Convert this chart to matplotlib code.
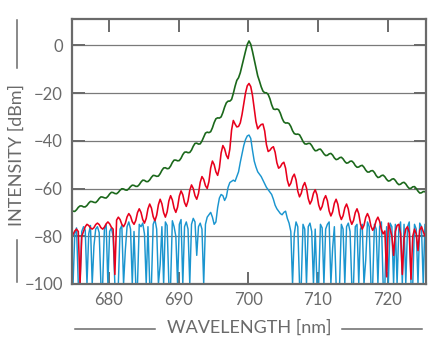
import numpy as np
import matplotlib
matplotlib.use("Agg")
import matplotlib.pyplot as plt
from matplotlib.lines import Line2D

# wavelength sampling positions (nm)
wavelength_nm = np.linspace(674.6, 725.6, 205)

green_dbm = [
    -69.2, -69.5, -69.6, -68.9, -67.9, -67.3, -67.3, -67.7, -67.7, -67.1,
    -66.1, -65.4, -65.5, -65.8, -65.9, -65.2, -64.2, -63.5, -63.6, -63.9,
    -64.0, -63.3, -62.3, -61.6, -61.7, -62.1, -62.2, -61.6, -60.7, -60.1,
    -60.2, -60.6, -60.7, -60.1, -59.2, -58.6, -58.7, -59.1, -59.1, -58.4,
    -57.3, -56.5, -56.6, -57.1, -57.1, -56.4, -55.3, -54.5, -54.6, -54.9,
    -54.8, -53.8, -52.4, -51.4, -51.3, -51.7, -51.6, -50.6, -49.1, -48.1,
    -48.1, -48.4, -48.3, -47.3, -45.8, -44.8, -44.7, -45.0, -44.9, -43.9,
    -42.3, -41.1, -41.0, -41.4, -41.3, -40.1, -38.5, -36.8, -36.4, -36.6,
    -36.2, -34.6, -32.4, -30.8, -30.4, -30.5, -30.0, -28.2, -25.9, -24.1,
    -23.4, -23.4, -22.7, -20.2, -17.2, -14.7, -13.6, -11.5, -8.5, -5.5,
    -2.5, 0.3, 1.8, 0.4, -2.6, -6.0, -9.5, -12.8, -15.0, -17.4,
    -19.2, -19.9, -19.9, -20.6, -22.4, -24.9, -26.7, -26.9, -26.7, -27.0,
    -28.5, -30.6, -32.1, -32.6, -32.5, -32.8, -34.0, -35.8, -37.0, -37.3,
    -37.2, -37.5, -38.8, -40.3, -41.3, -41.4, -41.1, -41.1, -42.0, -43.3,
    -44.2, -44.1, -43.6, -43.5, -44.4, -45.5, -46.2, -46.1, -45.5, -45.3,
    -46.0, -47.2, -47.9, -47.7, -47.1, -46.9, -47.6, -48.7, -49.4, -49.2,
    -48.6, -48.5, -49.2, -50.4, -51.1, -51.0, -50.5, -50.3, -51.1, -52.3,
    -53.1, -53.1, -52.6, -52.5, -53.3, -54.6, -55.4, -55.2, -54.6, -54.4,
    -55.1, -56.2, -56.9, -56.7, -56.1, -55.9, -56.6, -57.7, -58.4, -58.2,
    -57.6, -57.4, -58.1, -59.2, -60.0, -59.9, -59.3, -59.2, -60.0, -61.1,
    -61.9, -61.8, -61.3, -61.3, -62.1,
]

red_dbm = [
    -80, -79.2, -77.8, -77, -78, -100, -80, -78, -76, -75,
    -75.5, -76.5, -77, -76.4, -75.1, -74.5, -75.1, -76.4, -77, -76.2,
    -74.8, -74, -74.8, -76.2, -77, -96, -73.2, -72, -73, -75,
    -76, -74.6, -71.9, -70.5, -71.6, -73.9, -75, -73.4, -70.1, -68.5,
    -70, -73, -74.5, -72.5, -68.5, -66.5, -68.2, -71.8, -73.5, -71.2,
    -66.8, -64.5, -66.4, -70.1, -72, -69.8, -65.2, -63, -64.8, -68.2,
    -70, -67.8, -63.2, -61, -62.6, -65.9, -67.5, -65.2, -60.8, -58.5,
    -60, -63, -64.5, -62.1, -57.4, -55, -56.2, -58.8, -60, -57.1,
    -51.4, -48.5, -50, -53, -54.5, -51.4, -45.1, -42, -43.4, -46.1,
    -47.5, -43.5, -35.5, -31.5, -33, -34.2, -34, -32.5, -29, -24.5,
    -20, -17, -16, -17.3, -21, -26.5, -32, -35, -34, -33.2,
    -33, -35.9, -41.6, -44.5, -44, -43, -42.5, -44.8, -49.2, -51.5,
    -50.9, -49.6, -49, -51.5, -56.5, -59, -57.8, -55.2, -54, -56.4,
    -61.1, -63.5, -62, -59, -57.5, -59.8, -64.2, -66.5, -65, -62,
    -60.5, -62.6, -66.9, -69, -67.5, -64.5, -63, -65.1, -69.4, -71.5,
    -69.8, -66.2, -64.5, -66.6, -70.9, -73, -71.4, -68.1, -66.5, -68.6,
    -72.9, -75, -73.4, -70.1, -68.5, -70.6, -74.9, -77, -75.4, -72.1,
    -70.5, -72.2, -75.8, -77.5, -76.1, -73.4, -72, -73.8, -77.2, -79,
    -77.8, -97, -74.5, -77, -80, -88, -78, -75.5, -75, -79,
    -96, -81, -77, -76, -78.5, -98, -80, -77, -79, -86,
    -77.5, -76, -78, -80, -77,
]

blue_dbm = [
    -100, -100, -79, -76.5, -100, -100, -78, -76, -77.5, -100,
    -79, -75.5, -100, -84, -77, -76, -78.5, -100, -100, -77,
    -75, -100, -78, -76.5, -80, -100, -100, -100, -77, -75.5,
    -100, -86, -76, -74, -77, -100, -78, -100, -100, -75,
    -76, -74.5, -79, -100, -76, -100, -100, -75, -73, -77,
    -100, -92, -76, -100, -74, -75.5, -100, -100, -73.5, -76,
    -80, -100, -75, -73, -100, -76, -74, -77, -100, -75,
    -72.5, -74, -88, -76, -74.5, -77, -100, -75, -72, -71,
    -70, -72, -75, -74, -68, -64, -62.5, -63, -65, -63.5,
    -59.5, -57.5, -57, -56.5, -57, -55, -53, -49, -45.5, -42,
    -39.5, -38, -37.6, -39, -44, -48.5, -51, -53, -54, -55,
    -56.5, -58, -59.5, -60.5, -61.5, -62.5, -64.5, -67, -68.5, -69.5,
    -70.5, -71, -70, -69.5, -72.5, -74.5, -78, -100, -79, -74,
    -76, -100, -100, -75, -77, -100, -76, -74.5, -78, -100,
    -77, -100, -100, -75, -76.5, -100, -77, -75, -74, -100,
    -85, -76, -100, -100, -100, -75, -77, -100, -76, -74.5,
    -78, -100, -100, -76, -75, -100, -77, -75, -100, -90,
    -74, -76, -100, -100, -75, -77, -100, -76, -74, -100,
    -100, -76, -100, -74.5, -76, -100, -75, -100, -77, -74,
    -100, -75, -100, -76, -74, -100, -100, -75, -77, -100,
    -74.5, -76, -100, -75, -77,
]

x_ticks = [680, 690, 700, 710, 720]
y_ticks = [-100, -80, -60, -40, -20, 0]
x_label = "WAVELENGTH [nm]"
y_label = "INTENSITY [dBm]"

plt.rcParams['font.family'] = ['Lato', 'DejaVu Sans']
W, H = 440, 349
fig = plt.figure(figsize=(W / 100, H / 100), dpi=100)
ax = fig.add_axes([72 / W, 1 - 284 / H, (426 - 72) / W, (284 - 19) / H])

gray = '#6a6a6a'
for y in y_ticks[1:]:
    ax.axhline(y, color='#7a7a7a', lw=0.9, zorder=1)

ax.plot(wavelength_nm, blue_dbm, color='#1a95cf', lw=1.05, zorder=2)
ax.plot(wavelength_nm, red_dbm, color='#e8001c', lw=1.15, zorder=3)
ax.plot(wavelength_nm, green_dbm, color='#1b681b', lw=1.2, zorder=4)

ax.set_xlim(674.7, 725.5)
ax.set_ylim(-100, 11)
ax.set_xticks(x_ticks)
ax.set_yticks(y_ticks)
ax.tick_params(direction='in', length=9, width=1.4, color=gray, labelcolor=gray,
               labelsize=12, top=True, right=True)
ax.tick_params(axis='y', pad=6.5)
ax.tick_params(axis='x', pad=5.5)
for s in ax.spines.values():
    s.set_color(gray)
    s.set_linewidth(1.6)
    s.set_zorder(5)

fig.text(249 / W, 1 - 328 / H, x_label, ha='center', va='center', fontsize=13, color=gray)
fig.text(17 / W, 1 - 155 / H, y_label, ha='center', va='center', rotation=90, fontsize=13, color=gray)

def fline(xs, ys):
    fig.add_artist(Line2D([x / W for x in xs], [1 - y / H for y in ys],
                          transform=fig.transFigure, color=gray, lw=1.1))

fline([75, 155], [329, 329])
fline([342, 422], [329, 329])
fline([16.5, 16.5], [20, 68])
fline([16.5, 16.5], [240, 282])

fig.savefig("out.png", dpi=100)
